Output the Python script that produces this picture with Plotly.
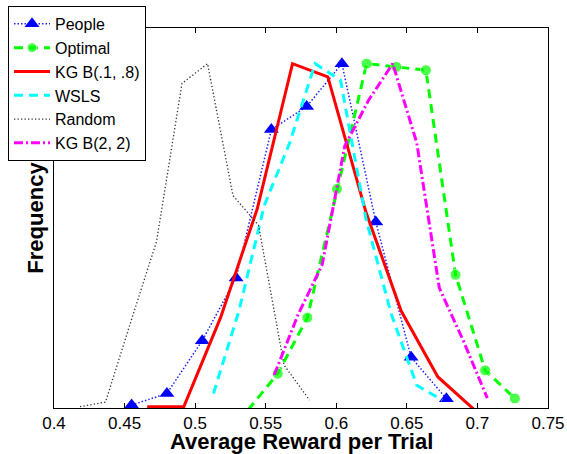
import plotly.graph_objects as go

# ---- data (histogram counts) ----
x_people = [0.455, 0.480, 0.505, 0.529, 0.554, 0.579, 0.604, 0.628, 0.653, 0.678]
y_people = [1.5, 5, 21, 40, 85, 92, 105, 57, 16, 3.4]

x_optimal = [0.5375, 0.5585, 0.5795, 0.6005, 0.6215, 0.6425, 0.6635, 0.6845, 0.7055, 0.7265]
y_optimal = [0, 11, 28, 67, 105, 104, 103, 41, 12, 3.5]

x_kg18 = [0.466, 0.492, 0.518, 0.544, 0.569, 0.594, 0.621, 0.646, 0.672, 0.698]
y_kg18 = [1, 1, 28, 61, 105, 101, 60, 30, 10, 0]

x_wsls = [0.513, 0.531, 0.549, 0.567, 0.585, 0.603, 0.621, 0.639, 0.657, 0.675]
y_wsls = [5, 30, 62, 81, 105, 100, 58, 29, 7.5, 3]

x_random = [0.4184, 0.4365, 0.4546, 0.4726, 0.4907, 0.5088, 0.5268, 0.5449, 0.5630, 0.5810]
y_random = [1, 2.4, 27, 51, 99, 105, 65, 56, 13.6, 3]

x_kg22 = [0.556, 0.573, 0.590, 0.606, 0.623, 0.640, 0.657, 0.673, 0.690, 0.707]
y_kg22 = [10.6, 29, 44, 80, 94, 105, 81, 37, 21, 3.6]

x_ticks = [0.4, 0.45, 0.5, 0.55, 0.6, 0.65, 0.7, 0.75]
y_range = [0.6, 115.8]

FONT = "Liberation Sans, Arial, sans-serif"

fig = go.Figure()

fig.add_trace(go.Scatter(
    x=x_people, y=y_people, name="People", mode="lines+markers",
    line=dict(color="#2020ff", width=1.5, dash="1.5px,2px"),
    marker=dict(symbol="triangle-up", size=13, color="#0000ff"),
))
fig.add_trace(go.Scatter(
    x=x_optimal, y=y_optimal, name="Optimal", mode="lines+markers",
    line=dict(color="#00ff00", width=3, dash="9px,6px"),
    marker=dict(symbol="circle", size=[0 if v < y_range[0] else 11 for v in y_optimal],
                color="#00ff00"),
))
fig.add_trace(go.Scatter(
    x=x_kg18, y=y_kg18, name="KG B(.1, .8)", mode="lines",
    line=dict(color="#ff0000", width=3),
))
fig.add_trace(go.Scatter(
    x=x_wsls, y=y_wsls, name="WSLS", mode="lines",
    line=dict(color="#00ffff", width=3, dash="9px,6px"),
))
fig.add_trace(go.Scatter(
    x=x_random, y=y_random, name="Random", mode="lines",
    line=dict(color="#333333", width=1.3, dash="1.3px,2.2px"),
))
fig.add_trace(go.Scatter(
    x=x_kg22, y=y_kg22, name="KG B(2, 2)", mode="lines",
    line=dict(color="#ff00ff", width=3, dash="9px,3px,2px,3px"),
))

fig.update_layout(
    width=567, height=454,
    margin=dict(l=54, r=19, t=28, b=46, autoexpand=False),
    paper_bgcolor="white", plot_bgcolor="white",
    font=dict(family=FONT, size=17, color="black"),
    showlegend=True,
    legend=dict(
        x=-0.0931, y=1.058, xanchor="left", yanchor="top",
        bgcolor="white", bordercolor="black", borderwidth=1,
        font=dict(family=FONT, size=16, color="black"),
        itemwidth=36, tracegroupgap=0,
    ),
    xaxis=dict(
        range=[0.4, 0.75], tickvals=x_ticks, ticktext=[f"{v:g}" for v in x_ticks],
        ticks="inside", ticklen=5, tickcolor="black",
        showline=True, linecolor="black", linewidth=1, mirror="ticks",
        showgrid=False, zeroline=False, automargin=False,
        tickfont=dict(family=FONT, size=17),
    ),
    yaxis=dict(
        range=y_range, showticklabels=False, ticks="",
        showline=True, linecolor="black", linewidth=1, mirror=True,
        showgrid=False, zeroline=False, automargin=False,
        title=dict(text="<b>Frequency</b>", standoff=3,
                   font=dict(family=FONT, size=22)),
    ),
    annotations=[dict(
        text="<b>Average Reward per Trial</b>", xref="paper", yref="paper",
        x=0.5, y=-0.089, xanchor="center", yanchor="middle", showarrow=False,
        font=dict(family=FONT, size=22, color="black"),
    )],
)

fig.write_html("out.html", config={"displayModeBar": False},
               post_script="document.body.style.margin='0';document.body.style.overflow='hidden';")
